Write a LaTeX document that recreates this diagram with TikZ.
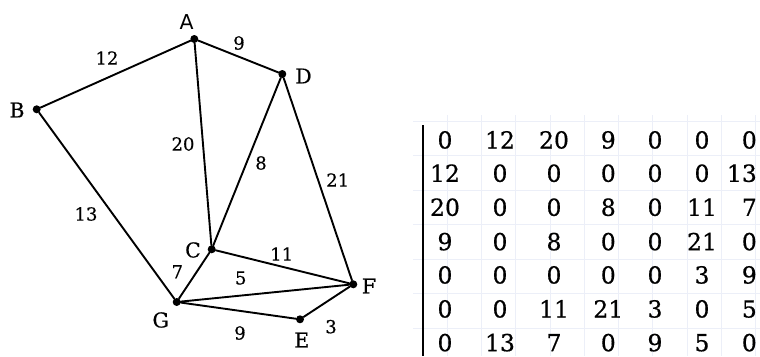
\documentclass[tikz,border=0pt]{standalone}
\usepackage{fontspec}
\setmainfont{DejaVu Serif}
\newfontfamily\lettersans{DejaVu Sans}
\newfontfamily\matfont[FakeBold=0.6]{DejaVu Serif}
\newfontfamily\labfont[FakeBold=0.4]{DejaVu Serif}
\definecolor{faintgrid}{RGB}{236,239,248}
\tikzset{
  vtx/.style={circle,fill=black,inner sep=0pt,minimum size=8pt},
  edge/.style={line width=1.9pt,line cap=round},
  vlab/.style={font=\labfont\fontsize{20.5}{20.5}\selectfont,inner sep=0pt},
  wlab/.style={font=\labfont\fontsize{18}{18}\selectfont,inner sep=0pt},
  mval/.style={font=\matfont\fontsize{23.5}{23.5}\selectfont,inner sep=0pt,anchor=base},
  mvalr/.style={font=\matfont\fontsize{23.5}{23.5}\selectfont,inner sep=0pt,anchor=base east}
}
\begin{document}
\begin{tikzpicture}[x=1pt,y=-1pt]
\useasboundingbox (0,0) rectangle (760,356);
% faint grid behind matrix
\begin{scope}
\clip (413,115) rectangle (760,356);
\foreach \yy in {121,155.5,190,224.5,259,293.5,328} \draw[faintgrid,line width=0.8pt] (413,\yy) -- (760,\yy);
\foreach \xx in {447,481.3,515.6,549.9,584.2,618.5,652.8,687.1,721.4,755.7} \draw[faintgrid,line width=0.8pt] (\xx,115) -- (\xx,356);
\end{scope}
% vertices
\node[vtx] (A) at (194.3,39) {};
\node[vtx] (D) at (282.3,74) {};
\node[vtx] (B) at (36.7,109.3) {};
\node[vtx] (C) at (211.7,249.3) {};
\node[vtx] (F) at (353.3,284.3) {};
\node[vtx] (G) at (176.7,302) {};
\node[vtx] (E) at (300,319.3) {};
% edges
\draw[edge] (A) -- (B);
\draw[edge] (A) -- (D);
\draw[edge] (A) -- (C);
\draw[edge] (D) -- (C);
\draw[edge] (D) -- (F);
\draw[edge] (B) -- (G);
\draw[edge] (C) -- (F);
\draw[edge] (C) -- (G);
\draw[edge] (G) -- (F);
\draw[edge] (G) -- (E);
\draw[edge] (E) -- (F);
% vertex labels
\node[vlab,font=\lettersans\fontsize{20.5}{20.5}\selectfont] (lA) at (186.7,22) {A};
\node[vlab] (lD) at (303.5,76) {D};
\node[vlab] (lB) at (17,110) {B};
\node[vlab] (lC) at (193,250) {C};
\node[vlab] (lF) at (369,286) {F};
\node[vlab] (lG) at (160.7,320) {G};
\node[vlab] (lE) at (301.7,340) {E};
% weights
\node[wlab] (w12) at (107,58) {12};
\node[wlab] (w9a) at (239,43) {9};
\node[wlab] (w20) at (183,144) {20};
\node[wlab] (w8) at (261,163) {8};
\node[wlab] (w21) at (337.7,180) {21};
\node[wlab] (w13) at (86,214) {13};
\node[wlab] (w11) at (281.7,254) {11};
\node[wlab] (w7) at (177.3,271.7) {7};
\node[wlab] (w5) at (240.7,278) {5};
\node[wlab] (w9b) at (240,333) {9};
\node[wlab] (w3) at (331,326.7) {3};
% matrix bar
\draw[line width=2.2pt] (423.3,125) -- (423.3,356);
% matrix entries
\foreach \yy/\a/\b/\c/\d/\e/\f/\g in {
  148.5/0/12/20/9/0/0/0,
  181.8/12/0/0/0/0/0/13,
  215.8/20/0/0/8/0/11/7,
  250.2/9/0/8/0/0/21/0,
  283.5/0/0/0/0/0/3/9,
  317.5/0/0/11/21/3/0/5,
  351.2/0/13/7/0/9/5/0}{
  \node[mval] at (445,\yy) {\a};
  \node[mval] at (500,\yy) {\b};
  \node[mval] at (554,\yy) {\c};
  \node[mval] at (608.3,\yy) {\d};
  \node[mval] at (655,\yy) {\e};
  \node[mval] at (702,\yy) {\f};
  \node[mvalr] at (757,\yy) {\g};
}
\end{tikzpicture}
\end{document}
